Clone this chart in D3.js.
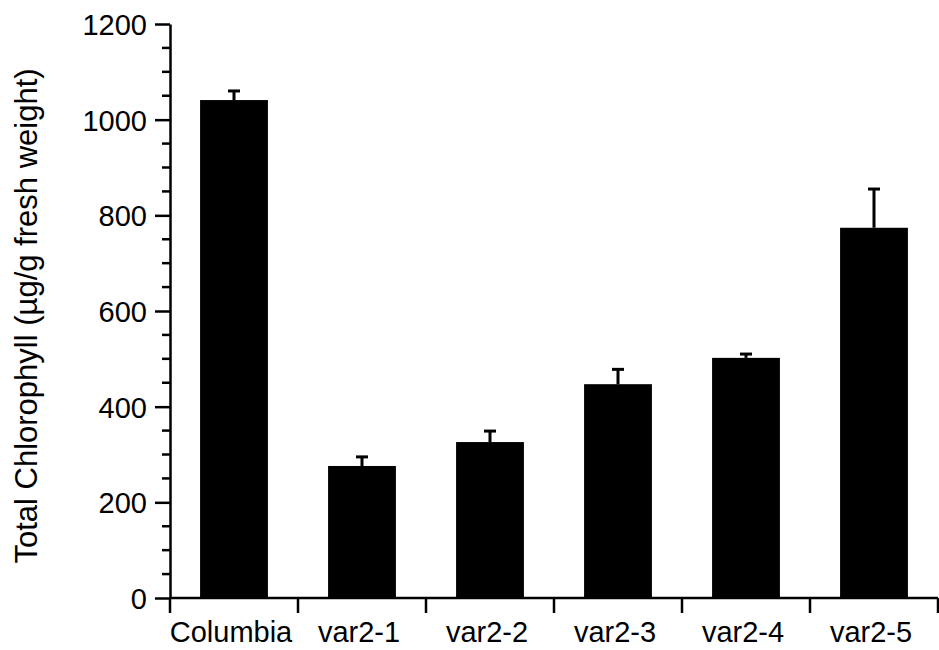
<!DOCTYPE html>
<html>
<head>
<meta charset="utf-8">
<script src="https://cdn.jsdelivr.net/npm/d3@7"></script>
<style>
  body { margin: 0; background: #fff; }
  svg { display: block; }
  text { font-family: "Liberation Sans", Arial, Helvetica, sans-serif; fill: #000; }
</style>
</head>
<body>
<svg id="chart"></svg>
<script>
// chlorophyll per line
const categories = ['Columbia', 'var2-1', 'var2-2', 'var2-3', 'var2-4', 'var2-5'];
const means = [1041, 276, 326, 447, 502, 774];
const errTops = [1060, 295, 349, 478, 510, 855];
const yTicks = [0, 200, 400, 600, 800, 1000, 1200];
const yMinorTicks = d3.range(0, 1201, 50);
const yTitle = 'Total Chlorophyll (\u00b5g/g fresh weight)';

const w = 939, h = 650;
const svg = d3.select('#chart').attr('width', w).attr('height', h);

const x0 = 170, x1 = 938, yBottom = 598, yTop = 24;

const y = d3.scaleLinear().domain([0, 1200]).range([yBottom, yTop]);
const x = d3.scaleBand()
    .domain(categories)
    .range([x0, x1])
    .paddingInner(0.47)
    .paddingOuter(0.235);

const step = x.step();
const gap = x.paddingInner() * step / 2;
const bounds = categories.map(c => x(c) - gap).concat([x(categories[categories.length - 1]) + x.bandwidth() + gap]);

// bars
svg.selectAll('.bar')
    .data(categories)
    .join('rect')
    .attr('class', 'bar')
    .attr('x', d => x(d))
    .attr('y', (d, i) => y(means[i]))
    .attr('width', x.bandwidth())
    .attr('height', (d, i) => y(0) - y(means[i]))
    .attr('fill', '#000');

// error bars (upper half only shows)
const eb = svg.append('g').attr('stroke', '#000').attr('stroke-width', 3);
categories.forEach((c, i) => {
    const cx = x(c) + x.bandwidth() / 2;
    eb.append('line').attr('x1', cx).attr('x2', cx).attr('y1', y(means[i])).attr('y2', y(errTops[i]));
    eb.append('line').attr('x1', cx - 6).attr('x2', cx + 6).attr('y1', y(errTops[i])).attr('y2', y(errTops[i]));
});

// y axis
const yAxis = d3.axisLeft(y).tickValues(yTicks).tickFormat(d3.format('d'))
    .tickSize(15).tickPadding(8).tickSizeOuter(0);
const gy = svg.append('g').attr('transform', `translate(${x0},0)`).call(yAxis);
gy.select('.domain').attr('stroke-width', 2.5);
gy.selectAll('.tick line').attr('stroke-width', 2.5);
gy.selectAll('.tick text').style('font-size', '29px').attr('dy', '0.36em');

svg.append('g')
    .attr('stroke', '#000').attr('stroke-width', 2.5)
    .selectAll('line')
    .data(yMinorTicks.filter(v => !yTicks.includes(v)))
    .join('line')
    .attr('x1', x0 - 8).attr('x2', x0)
    .attr('y1', d => y(d)).attr('y2', d => y(d));

// x axis
const gx = svg.append('g').attr('stroke', '#000').attr('stroke-width', 2.5);
gx.append('line').attr('x1', x0).attr('x2', x1).attr('y1', yBottom).attr('y2', yBottom);
gx.selectAll('.xt')
    .data(bounds)
    .join('line')
    .attr('class', 'xt')
    .attr('x1', d => d).attr('x2', d => d)
    .attr('y1', yBottom).attr('y2', yBottom + 15);

svg.selectAll('.xl')
    .data(categories)
    .join('text')
    .attr('class', 'xl')
    .attr('x', d => x(d) + x.bandwidth() / 2 - 3)
    .attr('y', 642)
    .attr('text-anchor', 'middle')
    .style('font-size', '29px')
    .text(d => d);

// y title
svg.append('text')
    .attr('transform', `translate(37,${(65 + 567) / 2}) rotate(-90)`)
    .attr('text-anchor', 'middle')
    .style('font-size', '31px')
    .text(yTitle);
</script>
</body>
</html>
